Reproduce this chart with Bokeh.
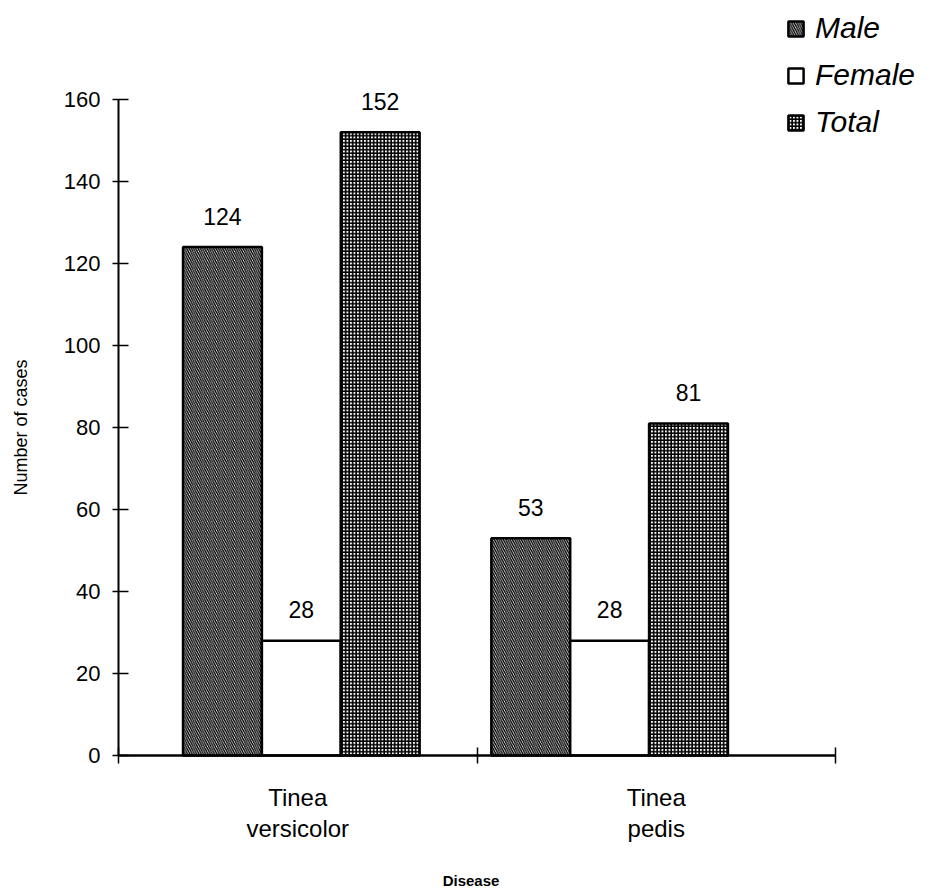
import math
from bokeh.plotting import figure
from bokeh.models import (ColumnDataSource, Range1d, FixedTicker, Legend,
                          LegendItem, Label)
from bokeh.core.properties import value
from bokeh.embed import file_html
from bokeh.resources import INLINE

# Cases by disease and sex
diseases = ["Tinea\nversicolor", "Tinea\npedis"]
male = [124, 53]
female = [28, 28]
total = [152, 81]
y_ticks = [0, 20, 40, 60, 80, 100, 120, 140, 160]

FONT = "Liberation Sans"

W, H = 933, 891
# pixel box of the value axes inside the canvas; the frame covers the whole
# canvas and the axes are pinned at x=0 / y=0 so that the legend and the axis
# titles can be placed freely around them
AX_L, AX_R, AX_T, AX_B = 118, 835, 99, 755
N_GROUPS = len(diseases)
y_max = y_ticks[-1]
ux = N_GROUPS / (AX_R - AX_L)          # data units per pixel, x
uy = y_max / (AX_B - AX_T)             # data units per pixel, y
x_rng = Range1d(-AX_L * ux, (W - AX_L) * ux)
y_rng = Range1d(-(H - AX_B) * uy, AX_B * uy)

# layout of the bar clusters along the numeric x axis (one unit per disease)
group_pos = [0.51, 1.37]
bar_w = 0.22
offsets = [-0.22, 0.0, 0.22]

p = figure(width=W, height=H, output_backend="svg", toolbar_location=None,
           x_range=x_rng, y_range=y_rng, min_border=0)
p.outline_line_color = None
p.grid.grid_line_color = None
p.background_fill_color = "white"
p.border_fill_color = "white"

def src(vals, off):
    return ColumnDataSource(dict(x=[g + off for g in group_pos], top=vals,
                                 lab=[str(v) for v in vals]))

s_m = src(male, offsets[0])
s_f = src(female, offsets[1])
s_t = src(total, offsets[2])

r_m = p.vbar(x="x", top="top", bottom=0, width=bar_w, source=s_m,
             fill_color="white", line_color="black", line_width=2.5,
             hatch_pattern="\\", hatch_color="black", hatch_scale=4.5, hatch_weight=1.4)
r_f = p.vbar(x="x", top="top", bottom=0, width=bar_w, source=s_f,
             fill_color="white", line_color="black", line_width=2.5)
r_t = p.vbar(x="x", top="top", bottom=0, width=bar_w, source=s_t,
             fill_color="white", line_color="black", line_width=2.5,
             hatch_pattern="+", hatch_color="black", hatch_scale=3.5, hatch_weight=1.7)

for s in (s_m, s_f, s_t):
    p.text(x="x", y="top", text="lab", source=s, y_offset=-31,
           text_align="center", text_baseline="middle",
           text_font=value(FONT), text_font_size="23px", text_color="black")

# y axis pinned at x=0, drawn only over the value span
ya = p.yaxis[0]
ya.fixed_location = 0
ya.bounds = (y_ticks[0], y_max)
ya.ticker = FixedTicker(ticks=y_ticks)
ya.axis_line_color = "black"
ya.axis_line_width = 2
ya.major_label_text_font = FONT
ya.major_label_text_font_size = "22px"
ya.major_label_text_color = "black"
ya.major_tick_line_color = "black"
ya.major_tick_line_width = 1.5
ya.major_tick_in = 10
ya.major_tick_out = 6
ya.minor_tick_line_color = None
ya.major_label_standoff = 12

# x axis pinned at y=0: labels at cluster midpoints, separator ticks at 0, 1, 2
xa = p.xaxis[0]
xa.fixed_location = 0
xa.bounds = (0, N_GROUPS)
xa.ticker = FixedTicker(ticks=[g + 0.5 for g in range(N_GROUPS)],
                        minor_ticks=list(range(N_GROUPS + 1)))
xa.major_label_overrides = {g + 0.5: d for g, d in enumerate(diseases)}
xa.axis_line_color = "black"
xa.axis_line_width = 2.5
xa.major_tick_line_color = None
xa.major_tick_in = 0
xa.major_tick_out = 0
xa.minor_tick_line_color = "black"
xa.minor_tick_in = 8
xa.minor_tick_out = 8
xa.minor_tick_line_width = 1.5
xa.major_label_standoff = 20
xa.major_label_text_font = FONT
xa.major_label_text_font_size = "24px"
xa.major_label_text_color = "black"
xa.major_label_text_line_height = 1.15

# axis titles, centred on the axis spans
p.add_layout(Label(x=20, y=H - (AX_T + AX_B) / 2, x_units="screen", y_units="screen",
                   text="Number of cases", angle=math.pi / 2,
                   text_align="center", text_baseline="middle",
                   text_font=FONT, text_font_size="18px", text_color="black"))
p.add_layout(Label(x=(AX_L + AX_R) / 2 - 6, y=H - 880, x_units="screen", y_units="screen",
                   text="Disease", text_align="center", text_baseline="middle",
                   text_font=FONT, text_font_style="bold",
                   text_font_size="15px", text_color="black"))

legend = Legend(items=[LegendItem(label="Male", renderers=[r_m]),
                       LegendItem(label="Female", renderers=[r_f]),
                       LegendItem(label="Total", renderers=[r_t])],
                location=(786, H - 139), orientation="vertical",
                label_text_font=FONT, label_text_font_style="italic",
                label_text_font_size="30px", label_text_color="black",
                glyph_width=19, glyph_height=19,
                label_height=34, spacing=13, padding=0, margin=0,
                label_standoff=10,
                border_line_alpha=0, background_fill_alpha=0)
p.add_layout(legend, "center")

open("out.html", "w").write(file_html(p, INLINE))
